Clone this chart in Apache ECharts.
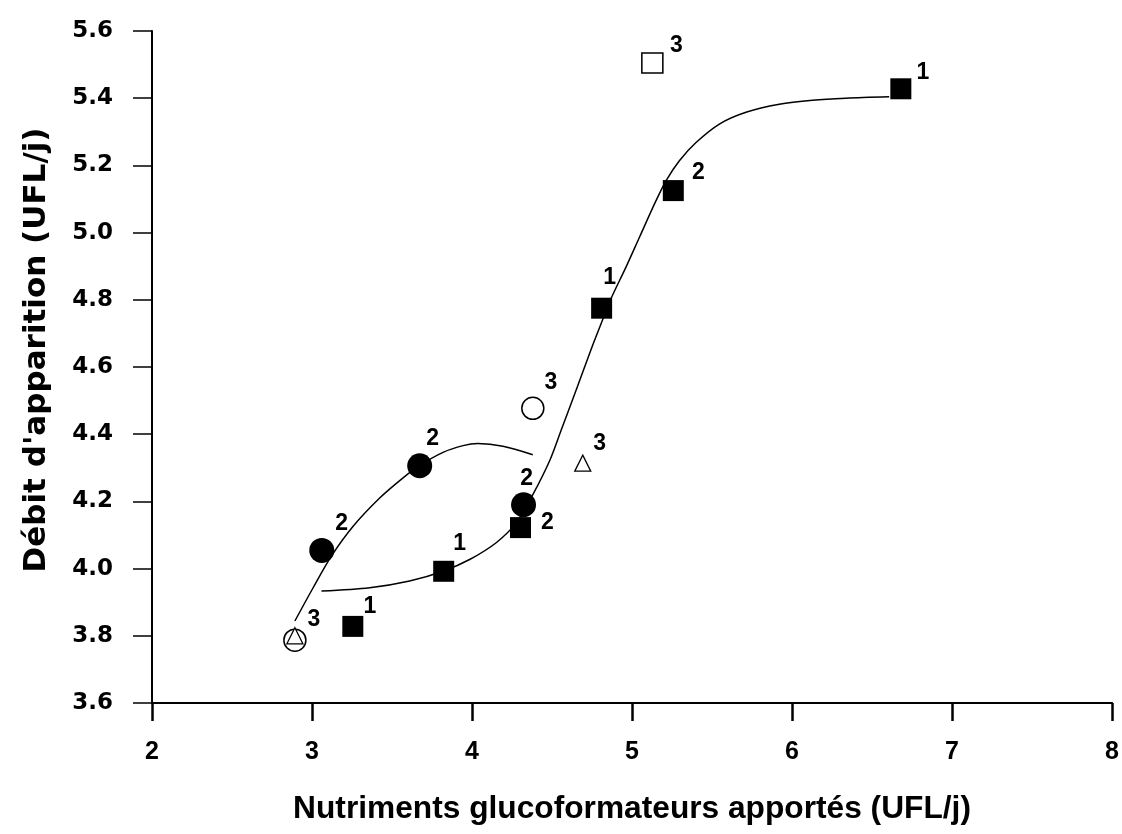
<!DOCTYPE html>
<html>
<head>
<meta charset="utf-8">
<script src="https://cdn.jsdelivr.net/npm/echarts@6/dist/echarts.min.js"></script>
<style>
html,body{margin:0;padding:0;background:#fff;}
#chart{width:1122px;height:834px;}
</style>
</head>
<body>
<div id="chart"></div>
<script>
// ---- Data ----
const xTitle = "Nutriments glucoformateurs apportés (UFL/j)";
const yTitle = "Débit d'apparition (UFL/j)";

// Filled squares
const squareX = [3.255, 3.823, 4.303, 4.810, 5.258, 6.680];
const squareY = [3.828, 3.992, 4.122, 4.775, 5.125, 5.428];
const squareLabels = ['1', '1', '2', '1', '2', '1'];

// Filled circles
const circleX = [3.061, 3.673, 4.322];
const circleY = [4.054, 4.306, 4.190];
const circleLabels = ['2', '2', '2'];

// Open square
const openSquareX = [5.127];
const openSquareY = [5.505];
const openSquareLabels = ['3'];

// Open circles
const openCircleX = [2.893, 4.380];
const openCircleY = [3.787, 4.477];
const openCircleLabels = ['', '3'];

// Open triangles
const openTriangleX = [2.893, 4.692];
const openTriangleY = [3.800, 4.314];
const openTriangleLabels = ['3', '3'];

// Fitted curve through the circles
const curveAX = [2.893, 3.007, 3.121, 3.257, 3.423, 3.569, 3.673, 3.819, 3.944, 4.037, 4.193, 4.380];
const curveAY = [3.844, 3.943, 4.037, 4.126, 4.210, 4.270, 4.307, 4.346, 4.366, 4.372, 4.364, 4.339];

// Fitted sigmoid curve through the squares
const curveBX = [3.059, 3.361, 3.610, 3.823, 3.985, 4.151, 4.276, 4.380, 4.488, 4.558, 4.659, 4.751, 4.820, 4.869, 4.960, 5.050, 5.150, 5.213, 5.296, 5.400, 5.546, 5.712, 5.920, 6.128, 6.336, 6.607];
const curveBY = [3.933, 3.943, 3.963, 3.993, 4.027, 4.077, 4.136, 4.220, 4.324, 4.413, 4.542, 4.661, 4.745, 4.804, 4.895, 4.990, 5.095, 5.155, 5.214, 5.268, 5.323, 5.358, 5.382, 5.394, 5.400, 5.404];

// ---- Styling (label placement relative to each marker) ----
const squareLabelOffsets = [[17,-20],[16,-28],[27,-5],[8,-31],[25,-18],[22,-16]];
const circleLabelOffsets = [[20,-27],[13,-27],[3,-26]];
const openSquareLabelOffsets = [[24,-17]];
const openCircleLabelOffsets = [[0,0],[18,-26]];
const openTriangleLabelOffsets = [[19,-16],[17,-19]];

const SANS = "'Liberation Sans', Arial, sans-serif";
const labelFont = {fontFamily: SANS, fontWeight: 'bold', fontSize: 23, color: '#000'};

function points(xs, ys, labels, offsets) {
  return xs.map((x, i) => {
    const d = {value: [x, ys[i]]};
    if (labels && labels[i]) {
      d.label = Object.assign({show: true, position: 'inside', formatter: labels[i], offset: offsets[i]}, labelFont);
    }
    return d;
  });
}
function line(xs, ys) { return xs.map((x, i) => [x, ys[i]]); }

const chart = echarts.init(document.getElementById('chart'), null, {renderer: 'canvas'});
chart.setOption({
  animation: false,
  backgroundColor: '#fff',
  grid: {left: 152, right: 9, top: 31, bottom: 131, containLabel: false},
  xAxis: {
    type: 'value', min: 2, max: 8, interval: 1,
    name: xTitle, nameLocation: 'middle', nameGap: 90,
    nameTextStyle: {fontFamily: SANS, fontWeight: 'bold', fontSize: 31.7, color: '#000'},
    axisLine: {show: true, onZero: false, lineStyle: {color: '#000', width: 2}},
    axisTick: {show: true, inside: false, length: 18, lineStyle: {color: '#000', width: 2.5}},
    axisLabel: {margin: 37, fontFamily: SANS, fontWeight: 'bold', fontSize: 25, color: '#000'},
    splitLine: {show: false}
  },
  yAxis: {
    type: 'value', min: 3.6, max: 5.6, interval: 0.2,
    name: yTitle, nameLocation: 'middle', nameGap: 100, nameRotate: 90,
    nameTextStyle: {fontFamily: 'DejaVu Sans, sans-serif', fontWeight: 'bold', fontSize: 31, color: '#000', padding: [0, 0, 0, 34]},
    axisLine: {show: true, onZero: false, lineStyle: {color: '#000', width: 2}},
    axisTick: {show: true, inside: false, length: 19, lineStyle: {color: '#000', width: 1.5}},
    axisLabel: {margin: 39, fontFamily: 'DejaVu Sans, sans-serif', fontWeight: 'bold', fontSize: 23, color: '#000',
      formatter: v => v.toFixed(1)},
    splitLine: {show: false}
  },
  series: [
    {type: 'line', data: line(curveAX, curveAY), smooth: 0.3, symbol: 'none',
      lineStyle: {color: '#000', width: 1.5}, z: 1, silent: true},
    {type: 'line', data: line(curveBX, curveBY), smooth: 0.3, symbol: 'none',
      lineStyle: {color: '#000', width: 1.5}, z: 1, silent: true},
    {type: 'scatter', data: points(openCircleX, openCircleY, openCircleLabels, openCircleLabelOffsets),
      symbol: 'circle', symbolSize: 22,
      itemStyle: {color: '#fff', borderColor: '#000', borderWidth: 1.5, opacity: 1}, z: 3},
    {type: 'scatter', data: points(openTriangleX, openTriangleY, openTriangleLabels, openTriangleLabelOffsets),
      symbol: 'triangle', symbolSize: 16,
      itemStyle: {color: '#fff', borderColor: '#000', borderWidth: 1.3, opacity: 1}, z: 4},
    {type: 'scatter', data: points(openSquareX, openSquareY, openSquareLabels, openSquareLabelOffsets),
      symbol: 'rect', symbolSize: [21, 20],
      itemStyle: {color: '#fff', borderColor: '#000', borderWidth: 1.5, opacity: 1}, z: 3},
    {type: 'scatter', data: points(squareX, squareY, squareLabels, squareLabelOffsets),
      symbol: 'rect', symbolSize: 21,
      itemStyle: {color: '#000', opacity: 1}, z: 3},
    {type: 'scatter', data: points(circleX, circleY, circleLabels, circleLabelOffsets),
      symbol: 'circle', symbolSize: 25,
      itemStyle: {color: '#000', opacity: 1}, z: 3}
  ]
});
</script>
</body>
</html>
